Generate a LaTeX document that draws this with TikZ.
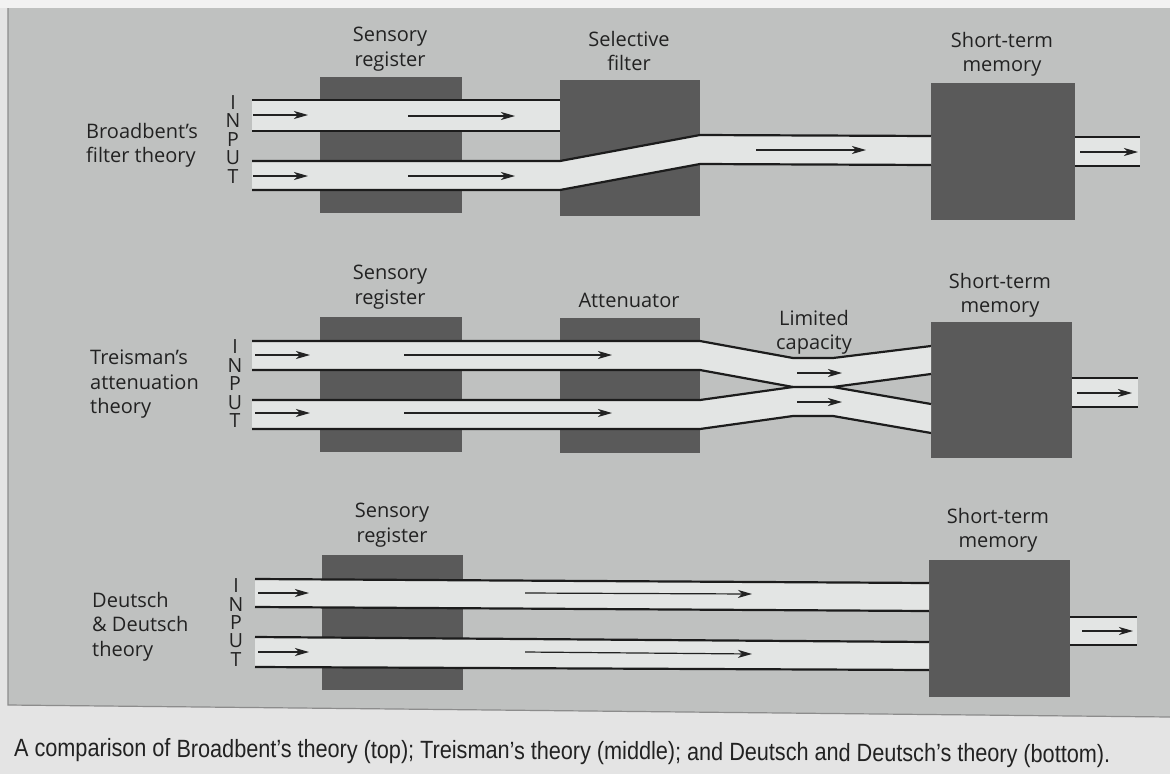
\documentclass[tikz,border=0pt]{standalone}
\usepackage{fontspec}
\setmainfont{Open Sans}
\newfontfamily\capfont{Liberation Sans}
\usetikzlibrary{arrows.meta}
\definecolor{paper}{HTML}{E4E4E4}
\definecolor{paperhi}{HTML}{F2F2F2}
\definecolor{panel}{HTML}{BFC1C0}
\definecolor{panelrim}{HTML}{8C8C8C}
\definecolor{block}{HTML}{5A5A5A}
\definecolor{lane}{HTML}{E3E5E4}
\definecolor{rail}{HTML}{1C1C1C}
\definecolor{ink}{HTML}{222222}
\begin{document}
\begin{tikzpicture}[x=1pt,y=-1pt,
  block/.style={fill=block,draw=none,inner sep=0pt,outer sep=0pt},
  lbl/.style={font=\fontsize{20}{24.5}\selectfont,text=ink,align=center,inner sep=0pt,anchor=north},
  side/.style={font=\fontsize{20}{24.5}\selectfont,text=ink,align=left,inner sep=0pt,anchor=north west},
  inp/.style={font=\fontsize{19.5}{19.5}\selectfont,text=ink,inner sep=0pt},
  lane/.style={fill=lane},
  rail/.style={draw=rail,line width=2.2pt},
  flow/.style={draw=ink,line width=1.2pt,-{Stealth[length=14pt,width=8pt,inset=4pt]}}]
\useasboundingbox (0,0) rectangle (1170,774);

% page and grey panel
\fill[paper] (0,0) rectangle (1170,774);
\fill[paperhi] (0,0) rectangle (1170,8);
\fill[panel] (8,8) -- (1170,8) -- (1170,717) -- (8,705) -- cycle;
\draw[panelrim,line width=1.2pt] (8,8) -- (8,705) -- (1170,717);

% ---------------- Broadbent's filter theory ----------------
\node[block,minimum width=142pt,minimum height=136pt] (sr1) at (391,145) {};
\node[block,minimum width=140pt,minimum height=136pt] (sf1) at (630,148) {};
\node[block,minimum width=144pt,minimum height=137pt] (stm1) at (1003,151.5) {};

\fill[lane] (252,100) rectangle (560,131);
\draw[rail] (252,100) -- (560,100) (252,131) -- (560,131);
\fill[lane] (252,161) -- (560,161) -- (700,135) -- (931,136) -- (931,165) -- (700,164) -- (560,190) -- (252,190) -- cycle;
\draw[rail] (252,161) -- (560,161) -- (700,135) -- (931,136);
\draw[rail] (252,190) -- (560,190) -- (700,164) -- (931,165);
\fill[lane] (1075,137) rectangle (1140,166);
\draw[rail] (1075,137) -- (1140,137) (1075,166) -- (1140,166);

\draw[flow] (253,115) -- (308,115);
\draw[flow] (408,116) -- (515,116);
\draw[flow] (253,176) -- (308,176);
\draw[flow] (408,176) -- (515,176);
\draw[flow] (756,150) -- (866,150);
\draw[flow] (1080,152) -- (1138,152);

\node[lbl] (sr1l) at (390,27) {Sensory\\register};
\node[lbl] (sf1l) at (629,31) {Selective\\filter};
\node[lbl] (stm1l) at (1002,32) {Short-term\\memory};
\node[side] (th1) at (86,123) {Broadbent’s\\filter theory};
\foreach \c [count=\i] in {I,N,P,U,T}
  \node[inp] (in1\c) at (233,{102.5+18.5*(\i-1)}) {\c};

% ---------------- Treisman's attenuation theory ----------------
\node[block,minimum width=142pt,minimum height=135pt] (sr2) at (391,384.5) {};
\node[block,minimum width=140pt,minimum height=135pt] (att2) at (630,385.5) {};
\node[block,minimum width=141pt,minimum height=136pt] (stm2) at (1001.5,390) {};

\fill[lane] (252,341) rectangle (700,370);
\fill[lane] (252,400) rectangle (700,429);
\fill[lane] (700,341) -- (793,358) -- (833,358) -- (931,346) -- (931,374) -- (833,387) -- (793,387) -- (700,370) -- cycle;
\fill[lane] (700,400) -- (793,387) -- (833,387) -- (931,404) -- (931,433) -- (833,416) -- (793,416) -- (700,429) -- cycle;
\draw[rail] (252,341) -- (700,341) -- (793,358) -- (833,358) -- (931,346);
\draw[rail] (252,429) -- (700,429) -- (793,416) -- (833,416) -- (931,433);
\draw[rail] (252,370) -- (700,370) -- (793,387) -- (833,387) -- (931,404);
\draw[rail] (252,400) -- (700,400) -- (793,387) (833,387) -- (931,374);
\fill[lane] (1072,378) rectangle (1138,407);
\draw[rail] (1072,378) -- (1138,378) (1072,407) -- (1138,407);

\draw[flow] (255,355) -- (310,355);
\draw[flow] (404,355) -- (612,355);
\draw[flow] (255,413) -- (310,413);
\draw[flow] (404,413) -- (612,413);
\draw[flow] (797,373) -- (842,373);
\draw[flow] (797,402) -- (842,402);
\draw[flow] (1077,393) -- (1132,393);

\node[lbl] (sr2l) at (390,265) {Sensory\\register};
\node[lbl] (att2l) at (629,293) {Attenuator};
\node[lbl] (lc2l) at (814,310) {Limited\\capacity};
\node[lbl] (stm2l) at (1000,273) {Short-term\\memory};
\node[side] (th2) at (90,350) {Treisman’s\\attenuation\\theory};
\foreach \c [count=\i] in {I,N,P,U,T}
  \node[inp] (in2\c) at (235,{347+18.5*(\i-1)}) {\c};

% ---------------- Deutsch & Deutsch theory ----------------
\node[block,minimum width=141pt,minimum height=135pt] (sr3) at (392.5,622.5) {};
\node[block,minimum width=141pt,minimum height=137pt] (stm3) at (999.5,628.5) {};

\fill[lane] (255,579) -- (929,583) -- (929,611) -- (255,607) -- cycle;
\draw[rail] (255,579) -- (929,583) (255,607) -- (929,611);
\fill[lane] (255,637) -- (929,642) -- (929,670) -- (255,667) -- cycle;
\draw[rail] (255,637) -- (929,642) (255,667) -- (929,670);
\fill[lane] (1070,617) rectangle (1137,645);
\draw[rail] (1070,617) -- (1137,617) (1070,645) -- (1137,645);

\draw[flow] (258,593) -- (309,593);
\draw[flow] (525,593) -- (752,594);
\draw[flow] (258,652) -- (309,652);
\draw[flow] (525,652) -- (752,654);
\draw[flow] (1082,631) -- (1133,631);

\node[lbl] (sr3l) at (392,503) {Sensory\\register};
\node[lbl] (stm3l) at (998,508) {Short-term\\memory};
\node[side] (th3) at (92,592) {Deutsch\\\& Deutsch\\theory};
\foreach \c [count=\i] in {I,N,P,U,T}
  \node[inp] (in3\c) at (236,{586+18.3*(\i-1)}) {\c};

% caption
\node[anchor=base west,inner sep=0pt,rotate=-0.35,text=ink,
      font=\capfont\fontsize{25}{25}\selectfont] (cap) at (14,756)
  {\resizebox{1096pt}{\height}{A comparison of Broadbent’s theory (top); Treisman’s theory (middle); and Deutsch and Deutsch’s theory (bottom).}};
\end{tikzpicture}
\end{document}
